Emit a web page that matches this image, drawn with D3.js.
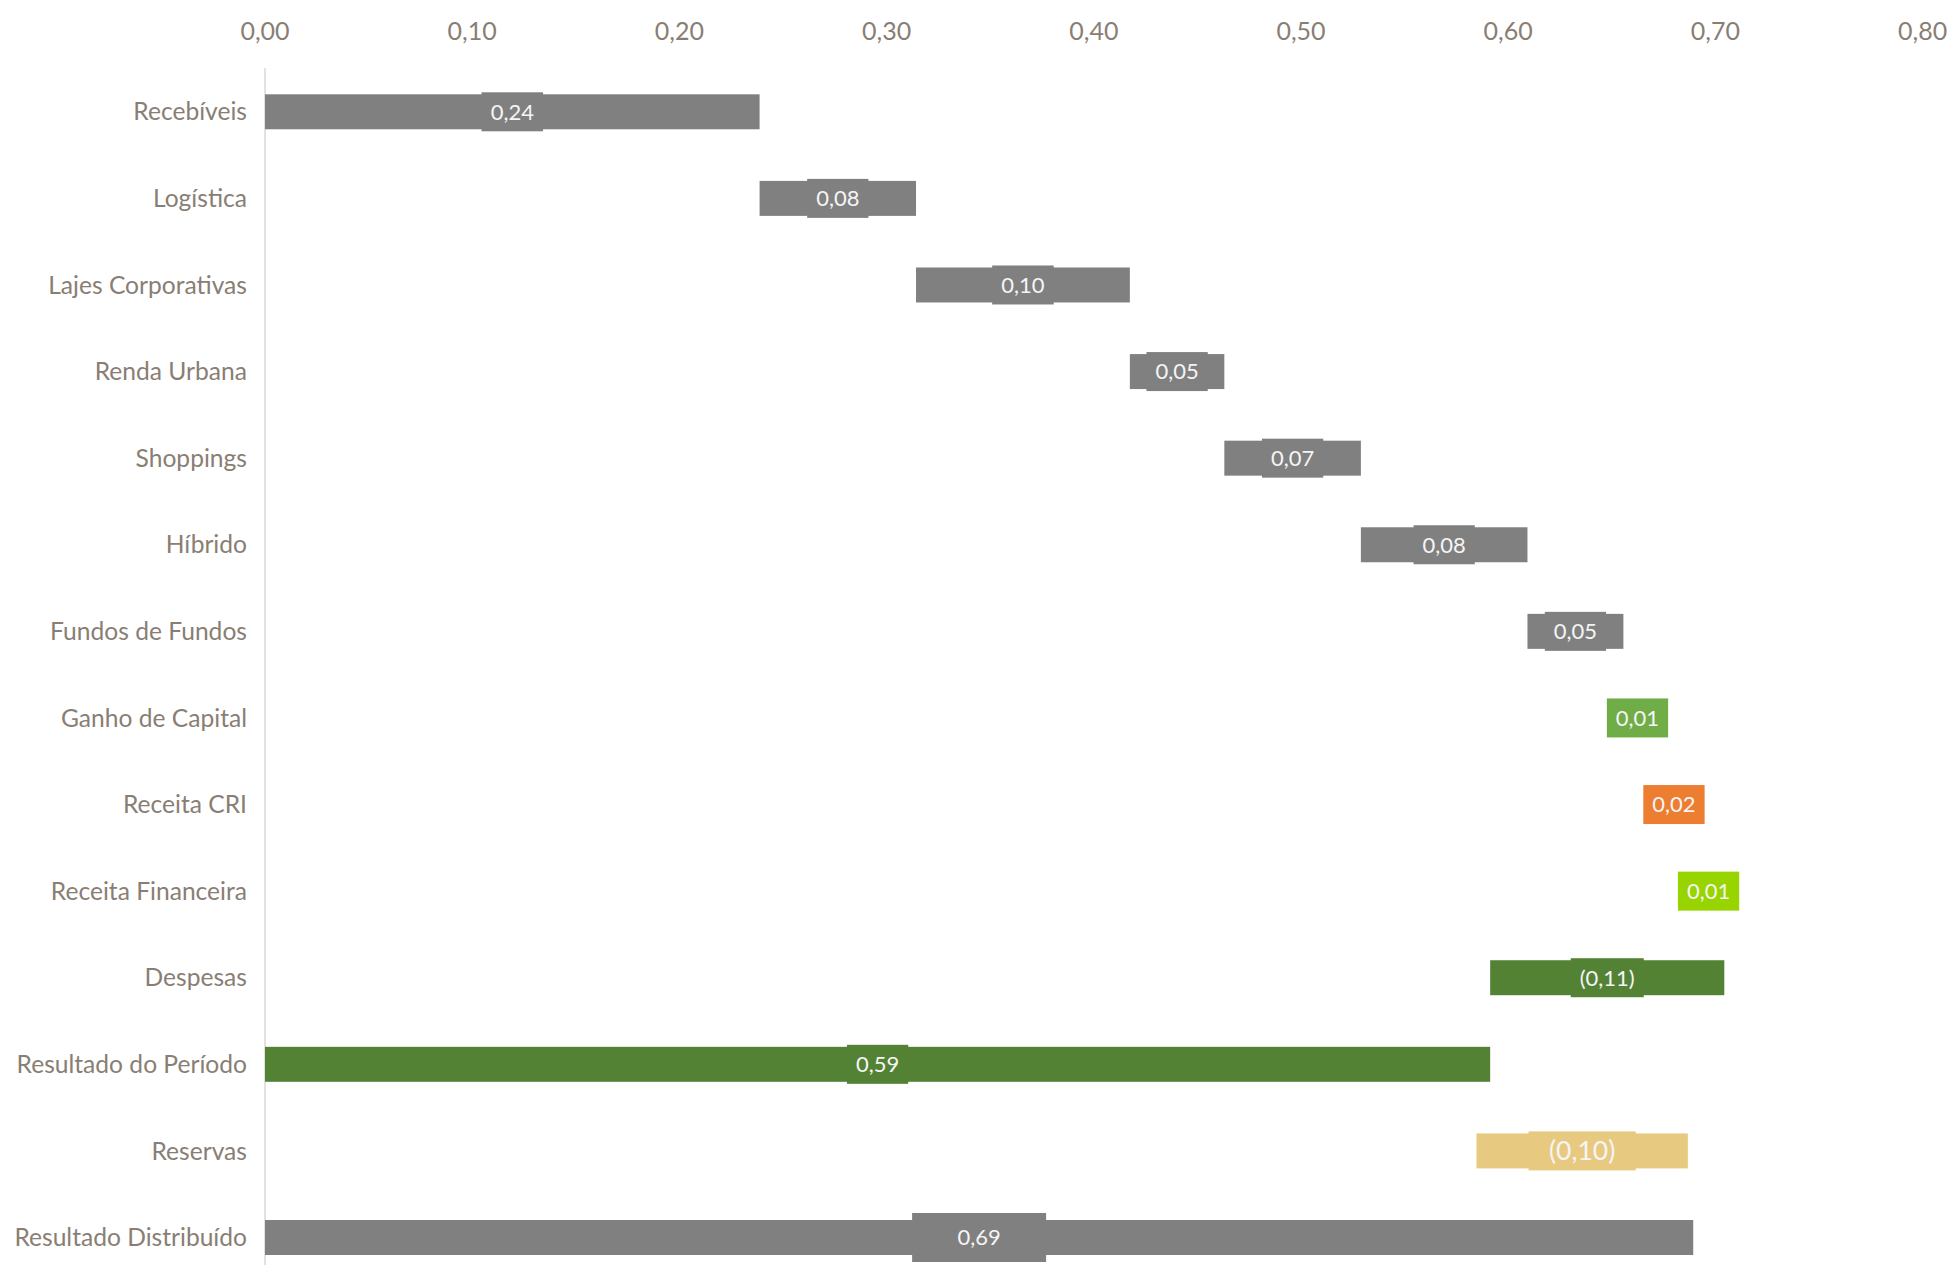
<!DOCTYPE html>
<html>
<head>
<meta charset="utf-8">
<script src="https://cdn.jsdelivr.net/npm/d3@7"></script>
<style>
  body { margin: 0; background: #fff; }
  svg { display: block; }
</style>
</head>
<body>
<script>
// categories (top to bottom)
const categories = ["Recebíveis", "Logística", "Lajes Corporativas", "Renda Urbana", "Shoppings",
  "Híbrido", "Fundos de Fundos", "Ganho de Capital", "Receita CRI", "Receita Financeira",
  "Despesas", "Resultado do Período", "Reservas", "Resultado Distribuído"];

// invisible base series (waterfall offset)
const bases = [0, 0.2387, 0.3142, 0.4174, 0.4630, 0.5289, 0.6093, 0.6556, 0.6692, 0.6908,
  0.5913, 0, 0.5847, 0];

// visible series (bar length)
const lengths = [0.2387, 0.0755, 0.1032, 0.0456, 0.0659, 0.0804, 0.0463, 0.0136, 0.0216, 0.0118,
  0.1130, 0.5913, 0.1020, 0.6893];

// data labels as shown
const labels = ["0,24", "0,08", "0,10", "0,05", "0,07", "0,08", "0,05", "0,01", "0,02", "0,01",
  "(0,11)", "0,59", "(0,10)", "0,69"];

const tickValues = [0, 0.1, 0.2, 0.3, 0.4, 0.5, 0.6, 0.7, 0.8];

// colours per category
var colors = {
  "Ganho de Capital": "#70ad47",
  "Receita CRI": "#ed7d31",
  "Receita Financeira": "#97d400",
  "Despesas": "#548235",
  "Resultado do Período": "#548235",
  "Reservas": "#e8c980"
};
var defaultColor = "#808080";

var W = 1949, H = 1265;
var textColor = "#897e74";
var font = "Lato, 'Open Sans', sans-serif";

var svg = d3.select("body").append("svg")
  .attr("width", W)
  .attr("height", H);

var x = d3.scaleLinear().domain([0, 0.8]).range([265, 1922.6]);
var y = d3.scaleBand().domain(categories).range([68.5, 1280.8])
  .paddingInner(0.596).paddingOuter(0.298);

var ptBR = d3.formatLocale({decimal: ",", thousands: ".", grouping: [3], currency: ["R$", ""]});
var fmt = ptBR.format(".2f");

// top axis labels
svg.append("g").selectAll("text")
  .data(tickValues)
  .enter().append("text")
  .attr("x", d => x(d))
  .attr("y", 40)
  .attr("text-anchor", "middle")
  .style("font-family", font)
  .style("font-size", "25px")
  .style("fill", textColor)
  .text(d => fmt(d));

// vertical axis line
svg.append("line")
  .attr("x1", x(0)).attr("x2", x(0))
  .attr("y1", 68).attr("y2", H)
  .attr("stroke", "#d9d9d9")
  .attr("stroke-width", 1.5);

// category labels
svg.append("g").selectAll("text")
  .data(categories)
  .enter().append("text")
  .attr("x", 247)
  .attr("y", d => y(d) + y.bandwidth() / 2)
  .attr("dy", "0.35em")
  .attr("text-anchor", "end")
  .style("font-family", font)
  .style("font-size", "24.6px")
  .style("fill", textColor)
  .text(d => d);

var rows = categories.map((c, i) => ({cat: c, base: bases[i], len: lengths[i], label: labels[i]}));

// bars
svg.append("g").selectAll("rect")
  .data(rows)
  .enter().append("rect")
  .attr("x", d => x(d.base))
  .attr("y", d => y(d.cat))
  .attr("width", d => x(d.base + d.len) - x(d.base))
  .attr("height", y.bandwidth())
  .attr("fill", d => colors[d.cat] || defaultColor);

// data labels with filled boxes
var lab = svg.append("g").selectAll("g")
  .data(rows)
  .enter().append("g")
  .attr("transform", d => "translate(" + x(d.base + d.len / 2) + "," + (y(d.cat) + y.bandwidth() / 2) + ")");

lab.append("rect").attr("class", "box");
lab.append("text")
  .attr("text-anchor", "middle")
  .attr("dy", "0.36em")
  .style("font-family", font)
  .style("font-size", d => d.cat == "Reservas" ? "26.5px" : "22px")
  .style("fill", "#f5f5f5")
  .text(d => d.label);

lab.each(function(d) {
  var g = d3.select(this);
  var bb = g.select("text").node().getBBox();
  var w = bb.width + 18, h = 39;
  if (d.cat == "Reservas") w = bb.width + 41;
  if (d.cat == "Resultado Distribuído") { w = 134; h = 49; }
  g.select("rect.box")
    .attr("x", -w / 2)
    .attr("y", -h / 2)
    .attr("width", w)
    .attr("height", h)
    .attr("fill", colors[d.cat] || defaultColor);
});
</script>
</body>
</html>
